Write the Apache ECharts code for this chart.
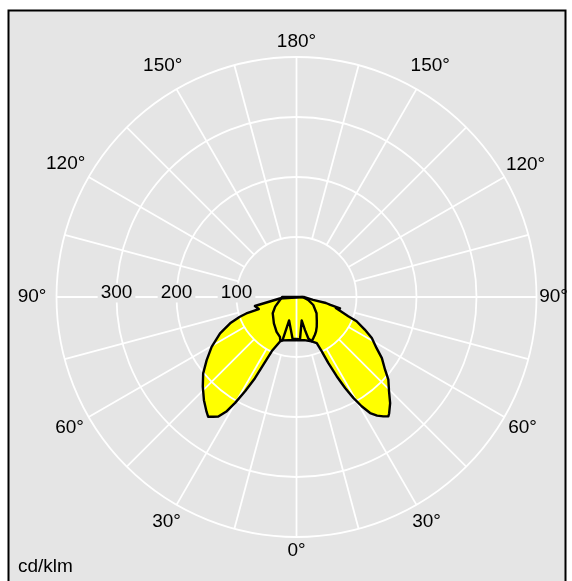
<!DOCTYPE html>
<html>
<head>
<meta charset="utf-8">
<script src="https://cdn.jsdelivr.net/npm/echarts@6/dist/echarts.min.js"></script>
<style>
  html, body { margin: 0; padding: 0; background: #ffffff; }
  #chart { width: 572px; height: 581px; }
</style>
</head>
<body>
<div id="chart"></div>
<script>
// Luminous intensity distribution in cd/klm.
// Each pair is [gamma angle in degrees from nadir, intensity].
// C0-C180 plane: C180 half drawn on the left, C0 half on the right.
const planeC180 = [
  [0, 70], [5.4, 70], [17.5, 41], [17.9, 76], [20.3, 79], [24.5, 99], [26.1, 126],
  [27.1, 152], [28.6, 179], [30.1, 204], [31.4, 223], [33.2, 238], [34.8, 243],
  [36.4, 248], [38.1, 243], [41.9, 231], [46.3, 216], [50.7, 201], [54.9, 183],
  [59.6, 164], [64.6, 141], [68.4, 119], [70.8, 100], [71.8, 88], [72.3, 66],
  [77.8, 71], [84.8, 28], [90, 26]
];
const planeC0 = [
  [0, 70], [4.7, 71], [12.5, 40], [14.4, 57], [15.9, 72], [18.9, 78], [23.7, 84],
  [24.9, 100], [25.7, 122], [26.9, 148], [28.1, 172], [29.4, 193], [30.8, 212],
  [32.4, 229], [34.2, 239], [36, 246], [37.6, 251], [38.5, 248], [41.4, 236],
  [44.5, 220], [48, 206], [50.6, 191], [54.4, 175], [57.5, 158], [61.4, 143],
  [64.5, 126], [68, 108], [69.6, 92], [72.5, 76], [74.5, 68], [75.2, 75],
  [76.8, 58], [78.5, 50], [80, 28], [82, 14], [90, 12]
];
// C90-C270 plane: C270 half on the left, C90 half on the right.
const planeC270 = [
  [0, 72], [10, 73], [17.8, 76], [20.5, 77], [22.6, 72], [29.7, 67], [40.5, 58],
  [55.6, 48], [65.7, 39], [79.7, 28], [85, 25], [90, 24]
];
const planeC90 = [
  [0, 72], [10, 73], [18.9, 78], [22.3, 74], [26, 70], [29.6, 66], [34.2, 60],
  [39.7, 53], [51, 43], [64.5, 31], [75.7, 20], [79, 12], [90, 10]
];

// Grid and tick labels
const radiusMax = 400;
const radiusTicks = [100, 200, 300];
const spokeAngles = [0, 15, 30, 45, 60, 75, 90, 105, 120, 135, 150, 165, 180,
  195, 210, 225, 240, 255, 270, 285, 300, 315, 330, 345];
const angleTicks = [0, 30, 60, 90, 120, 150, 180, 210, 240, 270, 300, 330];
const unitLabel = 'cd/klm';

// Layout: distance of angle labels outside the outer ring (px), by gamma and side
const angleLabelGapLeft = { 0: 14, 30: 20, 60: 22, 90: 24.5, 120: 26.5, 150: 27.5, 180: 15 };
const angleLabelGapRight = { 0: 14, 30: 20, 60: 21, 90: 17, 120: 24.5, 150: 27.5, 180: 15 };

const FONT = '19px "Liberation Sans", Arial, Helvetica, sans-serif';
const BG = '#e5e5e5';
const GRID = '#ffffff';

// Left half runs gamma 0..90 clockwise from the bottom, right half comes back 90..0.
function closedCurve(left, right) {
  const pts = left.map(([g, v]) => [v, g]);
  right.slice().reverse().forEach(([g, v]) => pts.push([v, 360 - g]));
  return pts;
}
const curveC0C180 = closedCurve(planeC180, planeC0);
const curveC90C270 = closedCurve(planeC270, planeC90);

function fillSeries(data) {
  return {
    type: 'line', coordinateSystem: 'polar', data, z: 1, silent: true,
    symbol: 'none', smooth: false, clip: false,
    lineStyle: { opacity: 0, width: 0 },
    areaStyle: { color: '#ffff00', opacity: 1 }
  };
}
function outlineSeries(data) {
  return {
    type: 'line', coordinateSystem: 'polar', data, z: 6, silent: true,
    symbol: 'none', smooth: false, clip: false,
    lineStyle: { color: '#000000', width: 2.4, join: 'round' }
  };
}

const chart = echarts.init(document.getElementById('chart'), null, { renderer: 'canvas' });
chart.setOption({
  animation: false,
  backgroundColor: '#ffffff',
  graphic: [
    {
      type: 'rect', z: -10, silent: true,
      shape: { x: 8.5, y: 10.5, width: 557, height: 600 },
      style: { fill: BG, stroke: '#000000', lineWidth: 2 }
    },
    {
      type: 'text', z: 10, silent: true, x: 18, y: 566.5,
      style: { text: unitLabel, font: FONT, fill: '#000000', align: 'left', verticalAlign: 'middle' }
    }
  ],
  polar: { center: [296.5, 297], radius: 240 },
  angleAxis: {
    type: 'value', min: 0, max: 360, interval: 30, startAngle: -90, clockwise: true,
    axisLine: { show: false }, axisTick: { show: false }, axisLabel: { show: false },
    splitLine: { show: false }, z: 2
  },
  radiusAxis: {
    type: 'value', min: 0, max: radiusMax, interval: 100,
    axisLine: { show: false }, axisTick: { show: false }, axisLabel: { show: false },
    splitLine: { show: true, lineStyle: { color: GRID, width: 1.8 } }, z: 2
  },
  series: [
    fillSeries(curveC0C180),
    fillSeries(curveC90C270),
    {
      // radial grid lines; the diagonals start at the first ring
      type: 'custom', coordinateSystem: 'polar', z: 3, silent: true,
      data: spokeAngles.map(a => [a % 90 === 0 ? 0 : radiusTicks[0], a]),
      renderItem: (params, api) => {
        const a = api.value(1);
        const p0 = api.coord([api.value(0), a]);
        const p1 = api.coord([radiusMax, a]);
        return {
          type: 'line',
          shape: { x1: p0[0], y1: p0[1], x2: p1[0], y2: p1[1] },
          style: { stroke: GRID, lineWidth: 1.8 }
        };
      }
    },
    {
      // intensity scale along the left horizontal
      type: 'custom', coordinateSystem: 'polar', z: 4, silent: true,
      data: radiusTicks.map(r => [r, 90]),
      renderItem: (params, api) => {
        const p = api.coord([api.value(0), api.value(1)]);
        return {
          type: 'text', x: p[0], y: p[1] - 4,
          style: {
            text: String(api.value(0)), font: FONT, fill: '#000000',
            align: 'center', verticalAlign: 'middle',
            backgroundColor: BG, padding: [0, 3]
          }
        };
      }
    },
    outlineSeries(curveC0C180),
    outlineSeries(curveC90C270),
    {
      // gamma labels, mirrored on both halves
      type: 'custom', coordinateSystem: 'polar', z: 6, silent: true,
      data: angleTicks.map(a => [radiusMax, a]),
      renderItem: (params, api) => {
        const a = api.value(1);
        const p = api.coord([radiusMax, a]);
        const c = api.coord([0, a]);
        const dx = p[0] - c[0], dy = p[1] - c[1];
        const len = Math.hypot(dx, dy);
        const g = a <= 180 ? a : 360 - a;
        const gap = (a <= 180 ? angleLabelGapLeft : angleLabelGapRight)[g];
        return {
          type: 'text', x: p[0] + dx / len * gap, y: p[1] + dy / len * gap,
          style: { text: g + '°', font: FONT, fill: '#000000', align: 'center', verticalAlign: 'middle' }
        };
      }
    }
  ]
});
</script>
</body>
</html>
